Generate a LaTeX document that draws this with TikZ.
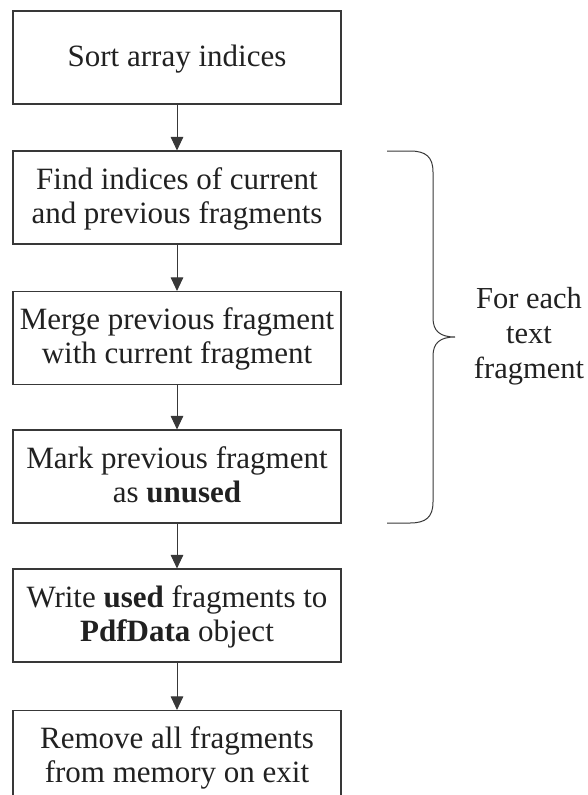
\documentclass[tikz,border=0pt]{standalone}
\usepackage{fontspec}
\setmainfont{Liberation Serif}
\usetikzlibrary{arrows.meta}

\definecolor{boxline}{gray}{0.22}
\definecolor{ink}{gray}{0.13}

% uniform line strut so every box centres its text the same way
\newcommand\linestrut{\vrule width 0pt height 25.5pt depth 8.5pt}

\begin{document}
\begin{tikzpicture}[x=1pt, y=-1pt,
  stepbox/.style={draw=boxline, line width=1.1pt, minimum width=328pt,
    minimum height=93pt, inner sep=0pt, align=center, text=ink,
    font=\fontsize{31}{34}\selectfont},
  flow/.style={draw=boxline, line width=1pt,
    -{Triangle[width=12.5pt,length=13.5pt]}},
  bracepath/.style={draw=boxline, line width=1pt},
  loopnote/.style={align=center, text=ink, inner sep=0pt,
    font=\fontsize{30.5}{31.5}\selectfont},
]
\clip (0,0) rectangle (587,795);

% process steps
\node[stepbox] (sort)   at (177,57.5)  {\linestrut Sort array indices};
\node[stepbox] (find)   at (177,197.5) {\linestrut Find indices of current\\\linestrut and previous fragments};
\node[stepbox] (merge)  at (177,338)   {\linestrut Merge previous fragment\\\linestrut with current fragment};
\node[stepbox] (mark)   at (177,476.5) {\linestrut Mark previous fragment\\\linestrut as \textbf{unused}};
\node[stepbox] (write)  at (177,615.5) {\linestrut Write \textbf{used} fragments to\\\linestrut \textbf{PdfData} object};
\node[stepbox] (remove) at (177,757)   {\linestrut Remove all fragments\\\linestrut from memory on exit};

% connectors
\draw[flow] (sort.south)  -- (find.north);
\draw[flow] (find.south)  -- (merge.north);
\draw[flow] (merge.south) -- (mark.north);
\draw[flow] (mark.south)  -- (write.north);
\draw[flow] (write.south) -- (remove.north);

% curly brace spanning the loop body
\coordinate (btop) at (387,151);
\coordinate (btip) at (455,337);
\coordinate (bbot) at (387,523);
\draw[bracepath] (btop) -- (410,151)
  .. controls (426,151) and (433,157) .. (433,172)
  -- (433,318)
  .. controls (433,331) and (440,337) .. (btip)
  .. controls (440,337) and (433,343) .. (433,356)
  -- (433,502)
  .. controls (433,517) and (426,523) .. (410,523)
  -- (bbot);

\node[loopnote] (note) at (529,335) {\linestrut For each\\\linestrut text\\\linestrut fragment};
\end{tikzpicture}
\end{document}
